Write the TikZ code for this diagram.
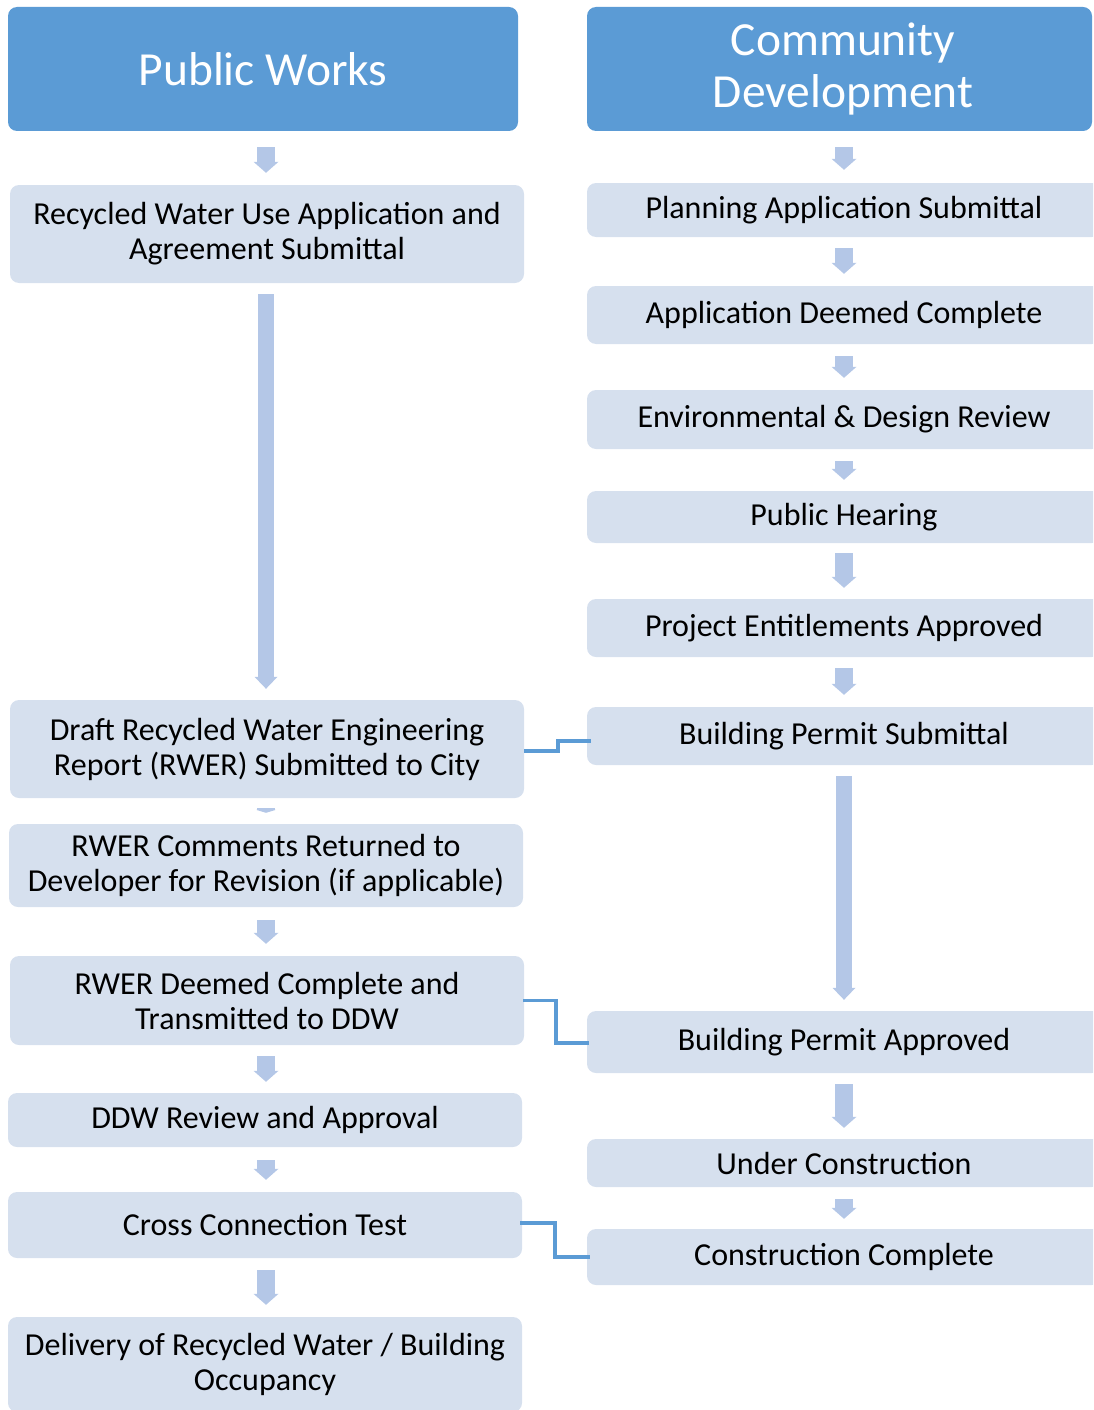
\documentclass[tikz,border=0pt]{standalone}
\usepackage{fontspec}
\setmainfont{Carlito}
\usetikzlibrary{arrows.meta,calc}
\definecolor{hdr}{HTML}{5B9BD5}
\definecolor{boxfill}{HTML}{D6E0EE}
\definecolor{arrfill}{HTML}{B4C7E7}
\definecolor{conncol}{HTML}{5B9BD5}
\tikzset{
  hdrbox/.style={fill=hdr, rounded corners=9pt, inner sep=0pt, text=white, align=center,
    font=\fontsize{47.5}{52}\selectfont},
  stepbox/.style={fill=boxfill, rounded corners=9pt, inner sep=0pt, text=black, align=center,
    minimum width=514pt, font=\fontsize{32}{35}\selectfont},
  barrow/.style={draw=arrfill, line width=18pt, -{Triangle[width=25pt,length=11pt,line width=0pt,fill=arrfill]}},
  longarrow/.style={draw=arrfill, line width=16pt, -{Triangle[width=23pt,length=12pt,line width=0pt,fill=arrfill]}},
  tinyarrow/.style={draw=arrfill, line width=18pt, -{Triangle[width=20pt,length=3pt,line width=0pt,fill=arrfill]}},
  conn/.style={draw=conncol, line width=3.5pt}
}
\begin{document}
\begin{tikzpicture}[x=1pt,y=-1pt]
\useasboundingbox (0,0) rectangle (1093,1410);
\clip (0,0) rectangle (1093,1410);
% headers
\node[hdrbox, minimum width=510pt, minimum height=124pt] (pw) at (263,69) {Public Works};
\node[hdrbox, minimum width=505pt, minimum height=124pt] (cd) at (839.5,69) {\hspace*{7pt}Community\\\hspace*{7pt}Development};
% left column
\node[stepbox, minimum height=98pt] (l1) at (267,234) {Recycled Water Use Application and\\Agreement Submittal};
\node[stepbox, minimum height=98pt] (l2) at (267,749) {Draft Recycled Water Engineering\\Report (RWER) Submitted to City};
\node[stepbox, minimum height=83pt] (l3) at (266,865.5) {RWER Comments Returned to\\Developer for Revision (if applicable)};
\node[stepbox, minimum height=89pt] (l4) at (267,1000.5) {RWER Deemed Complete and\\Transmitted to DDW};
\node[stepbox, minimum height=54pt] (l5) at (265,1120) {DDW Review and Approval};
\node[stepbox, minimum height=66pt] (l6) at (265,1225) {Cross Connection Test};
\node[stepbox, minimum height=95pt] (l7) at (265,1364.5) {Delivery of Recycled Water / Building\\Occupancy};
% right column
\node[stepbox, minimum height=54pt] (r1) at (844,210) {Planning Application Submittal};
\node[stepbox, minimum height=58pt] (r2) at (844,315) {Application Deemed Complete};
\node[stepbox, minimum height=59pt] (r3) at (844,419.5) {Environmental \& Design Review};
\node[stepbox, minimum height=52pt] (r4) at (844,517) {Public Hearing};
\node[stepbox, minimum height=58pt] (r5) at (844,628) {Project Entitlements Approved};
\node[stepbox, minimum height=58pt] (r6) at (844,736) {Building Permit Submittal};
\node[stepbox, minimum height=62pt] (r7) at (844,1042) {Building Permit Approved};
\node[stepbox, minimum height=48pt] (r8) at (844,1163) {Under Construction};
\node[stepbox, minimum height=56pt] (r9) at (844,1257) {Construction Complete};
% column axes
\coordinate (lc) at (266,0);
\coordinate (rc) at (844,0);
% left arrows
\draw[barrow, shorten <=16pt, shorten >=12pt] (pw.south -| lc) -- (l1.north -| lc);
\draw[longarrow, shorten <=11pt, shorten >=11pt] (l1.south -| lc) -- (l2.north -| lc);
\draw[tinyarrow, shorten <=10pt, shorten >=11pt] (l2.south -| lc) -- (l3.north -| lc);
\draw[barrow, shorten <=13pt, shorten >=12pt] (l3.south -| lc) -- (l4.north -| lc);
\draw[barrow, shorten <=11pt, shorten >=11pt] (l4.south -| lc) -- (l5.north -| lc);
\draw[barrow, shorten <=13pt, shorten >=12pt] (l5.south -| lc) -- (l6.north -| lc);
\draw[barrow, shorten <=12pt, shorten >=12pt] (l6.south -| lc) -- (l7.north -| lc);
% right arrows
\draw[barrow, shorten <=16pt, shorten >=13pt] (cd.south -| rc) -- (r1.north -| rc);
\draw[barrow, shorten <=11pt, shorten >=12pt] (r1.south -| rc) -- (r2.north -| rc);
\draw[barrow, shorten <=12pt, shorten >=12pt] (r2.south -| rc) -- (r3.north -| rc);
\draw[barrow, shorten <=12pt, shorten >=11pt] (r3.south -| rc) -- (r4.north -| rc);
\draw[barrow, shorten <=10pt, shorten >=11pt] (r4.south -| rc) -- (r5.north -| rc);
\draw[barrow, shorten <=11pt, shorten >=12pt] (r5.south -| rc) -- (r6.north -| rc);
\draw[longarrow, shorten <=11pt, shorten >=11pt] (r6.south -| rc) -- (r7.north -| rc);
\draw[barrow, shorten <=11pt, shorten >=11pt] (r7.south -| rc) -- (r8.north -| rc);
\draw[barrow, shorten <=12pt, shorten >=10pt] (r8.south -| rc) -- (r9.north -| rc);
% cross connectors
\draw[conn] ($(l2.east)+(0,2)$) -- ++(34,0) |- ($(r6.west)+(4,5)$);
\draw[conn] ($(l4.east)+(-1,0)$) -- ++(33,0) |- ($(r7.west)+(2,1)$);
\draw[conn] ($(l6.east)+(-2,-2)$) -- ++(35,0) |- ($(r9.west)+(3,0)$);
\end{tikzpicture}
\end{document}
